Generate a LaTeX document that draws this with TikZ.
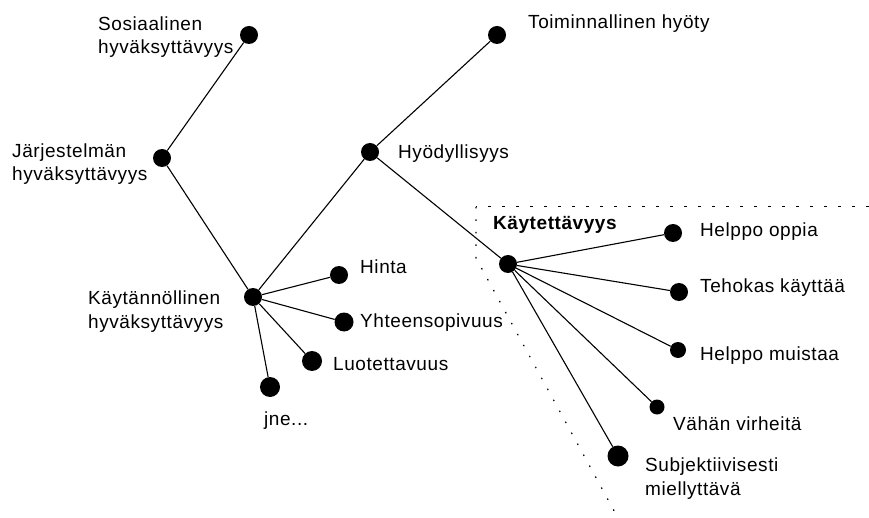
\documentclass[tikz,border=0pt]{standalone}
\usepackage{fontspec}
\setmainfont{Liberation Sans}[LetterSpace=3]
\usetikzlibrary{positioning}

\begin{document}
\begin{tikzpicture}[x=1pt,y=-1pt,
  dot/.style={circle,fill=black,inner sep=0pt,minimum size=#1},
  dot/.default=18pt,
  lbl/.style={anchor=base west,inner sep=0pt,font=\fontsize{19}{23.5}\selectfont,align=left},
  edge/.style={line width=1.1pt}]
\useasboundingbox (0,0) rectangle (869,518);

% main tree
\node[dot] (sos) at (249,35) {};
\node[dot] (jarj) at (162,158) {};
\node[dot] (kayt) at (253,297) {};
\node[dot] (hyod) at (370,152) {};
\node[dot] (toim) at (497,35) {};
\node[dot] (kv) at (508,264) {};

% practical acceptability
\node[dot] (hinta) at (339,275) {};
\node[dot=19pt] (yht) at (344,322) {};
\node[dot=20pt] (luot) at (312,361) {};
\node[dot=20pt] (jne) at (270,387) {};

% usability
\node[dot] (oppia) at (673,233) {};
\node[dot] (tehokas) at (679,292) {};
\node[dot=16pt] (muistaa) at (678,350) {};
\node[dot=15pt] (virheet) at (657,407) {};
\node[dot=21pt] (subj) at (618,456) {};

\foreach \a/\b in {jarj/sos,jarj/kayt,kayt/hyod,hyod/toim,hyod/kv,
                   kayt/hinta,kayt/yht,kayt/luot,kayt/jne,
                   kv/oppia,kv/tehokas,kv/muistaa,kv/virheet,kv/subj}
  \draw[edge] (\a) -- (\b);

% labels (two-line labels sit on their last baseline)
\node[lbl] (t-sos) at (98,54) {Sosiaalinen\\hyväksyttävyys};
\node[lbl] (t-jarj) at (12,181) {Järjestelmän\\hyväksyttävyys};
\node[lbl] (t-kayt) at (88,328) {Käytännöllinen\\hyväksyttävyys};
\node[lbl] (t-hyod) at (398,159) {Hyödyllisyys};
\node[lbl] (t-toim) at (528,29) {Toiminnallinen hyöty};
\node[lbl,font=\fontsize{19}{23}\selectfont\bfseries] (t-kv) at (493,230) {Käytettävyys};
\node[lbl] (t-hinta) at (360,274) {Hinta};
\node[lbl] (t-yht) at (360,327) {Yhteensopivuus};
\node[lbl] (t-luot) at (333,370) {Luotettavuus};
\node[lbl] (t-jne) at (264,425) {jne...};
\node[lbl] (t-oppia) at (700,237) {Helppo oppia};
\node[lbl] (t-tehokas) at (700,293) {Tehokas käyttää};
\node[lbl] (t-muistaa) at (700,360) {Helppo muistaa};
\node[lbl] (t-virheet) at (673,430) {Vähän virheitä};
\node[lbl] (t-subj) at (645,495) {Subjektiivisesti\\miellyttävä};

% usability boundary
\coordinate (b-right) at (869,207);
\coordinate (b-corner) at (476,207);
\coordinate (b-bend) at (476,258);
\coordinate (b-end) at (618,518);
\draw[line width=1pt,dash pattern=on 3pt off 11pt] (b-right) -- (b-corner);
\draw[line width=1.2pt,dash pattern=on 1.5pt off 11pt] (b-corner) -- (b-bend) -- (b-end);
\end{tikzpicture}
\end{document}
